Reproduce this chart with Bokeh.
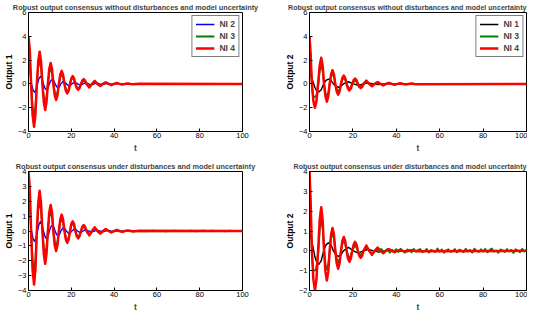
from bokeh.plotting import figure
from bokeh.layouts import column, row
from bokeh.models import Legend, LegendItem, FixedTicker, Range1d, Title
from bokeh.embed import file_html
from bokeh.resources import INLINE

# ---------------- data ----------------
X_TICKS = [0, 20, 40, 60, 80, 100]
Y_TICKS_TOP = [-4, -2, 0, 2, 4, 6]
Y_TICKS_BL = [-4, -3, -2, -1, 0, 1, 2, 3, 4]
Y_TICKS_BR = [-2, -1, 0, 1, 2, 3, 4]

TITLE_TOP = "Robust output consensus without disturbances and model uncertainty"
TITLE_BOT = "Robust output consensus under disturbances and model uncertainty"

# Output 1 (t, value) - the undisturbed and disturbed runs look the same early on
tl_ni2 = [(0, 2.0), (0.7, 1.3), (1.4, 0), (2.1, -0.5), (2.8, -0.7), (3.5, -0.5), (4.2, 0), (4.9, 0.45),
          (5.6, 0.63), (6.3, 0.45), (7.0, 0), (7.7, -0.37), (8.4, -0.52), (9.1, -0.37), (9.75, 0),
          (10.4, 0.27), (11.1, 0.38), (11.8, 0.27), (12.45, 0), (13.1, -0.23), (13.8, -0.32),
          (14.5, -0.23), (15.1, 0), (16.4, 0.26), (17.7, 0), (19.0, -0.2), (20.3, 0), (21.6, 0.16),
          (22.9, 0), (24.2, -0.13), (25.5, 0), (26.8, 0.1), (28.1, 0), (29.4, -0.08), (30.7, 0),
          (32.0, 0.06), (33.3, 0), (34.6, -0.05), (35.9, 0), (37.2, 0.04), (38.5, 0), (39.8, -0.03),
          (41.1, 0), (42.4, 0.02), (43.7, 0), (45.0, -0.01), (100, 0)]
tl_ni3 = [(0, 3.0), (0.6, 2.2), (1.2, 0), (1.9, -1.9), (2.6, -2.7), (3.25, -1.9), (3.9, 0), (4.55, 1.4),
          (5.2, 2.0), (5.85, 1.4), (6.5, 0), (7.15, -1.1), (7.8, -1.55), (8.4, -1.1), (9.05, 0),
          (9.7, 0.92), (10.35, 1.3), (11.0, 0.92), (11.6, 0), (12.25, -0.7), (12.9, -1.0),
          (13.55, -0.7), (14.2, 0), (14.85, 0.58), (15.5, 0.82), (16.15, 0.58), (16.8, 0),
          (17.45, -0.44), (18.1, -0.62), (18.75, -0.44), (19.4, 0), (20.0, 0.35), (20.65, 0.5),
          (21.3, 0.35), (21.9, 0), (22.55, -0.27), (23.2, -0.38), (23.85, -0.27), (24.5, 0),
          (25.8, 0.3), (27.1, 0), (28.4, -0.23), (29.7, 0), (30.95, 0.18), (32.2, 0), (33.5, -0.14),
          (34.8, 0), (36.1, 0.1), (37.4, 0), (38.7, -0.08), (40.0, 0), (41.25, 0.06), (42.5, 0),
          (43.8, -0.04), (45.1, 0), (46.4, 0.03), (47.7, 0), (49.0, -0.02), (100, 0)]
tl_ni4 = [(0, 4.0), (0.6, 2.9), (1.2, 0), (1.9, -2.6), (2.6, -3.6), (3.25, -2.55), (3.9, 0), (4.55, 1.9),
          (5.2, 2.7), (5.85, 1.9), (6.5, 0), (7.15, -1.55), (7.8, -2.2), (8.4, -1.55), (9.05, 0),
          (9.7, 1.25), (10.35, 1.75), (11.0, 1.25), (11.6, 0), (12.25, -0.95), (12.9, -1.35),
          (13.55, -0.95), (14.2, 0), (14.85, 0.78), (15.5, 1.1), (16.15, 0.78), (16.8, 0),
          (17.45, -0.57), (18.1, -0.8), (18.75, -0.57), (19.4, 0), (20.0, 0.46), (20.65, 0.65),
          (21.3, 0.46), (21.9, 0), (22.55, -0.35), (23.2, -0.5), (23.85, -0.35), (24.5, 0),
          (25.15, 0.28), (25.8, 0.4), (26.45, 0.28), (27.1, 0), (28.4, -0.3), (29.7, 0), (30.95, 0.25),
          (32.2, 0), (33.5, -0.18), (34.8, 0), (36.1, 0.14), (37.4, 0), (38.7, -0.1), (40.0, 0),
          (41.25, 0.08), (42.5, 0), (43.8, -0.06), (45.1, 0), (46.4, 0.04), (47.7, 0), (49.0, -0.03),
          (50.3, 0), (51.6, 0.02), (100, 0)]

# NI 2 in the disturbed run keeps a small ripple after t = 45
bl_ni2_tail = [(46, -0.02), (48, 0.03), (50, -0.01), (52, 0.02), (54, -0.03), (56, 0.01), (58, 0.03),
               (60, -0.02), (62, 0.02), (64, -0.03), (66, 0.01), (68, 0.03), (70, -0.02), (72, 0.02),
               (74, -0.01), (76, 0.03), (78, -0.03), (80, 0.02), (82, 0.04), (84, -0.02), (86, 0.03),
               (88, -0.01), (90, 0.02), (92, -0.03), (94, 0.03), (96, -0.02), (98, 0.02), (100, 0.0)]

# Output 2 (t, value)
tr_ni1 = [(0, 0.9), (0.8, 0.6), (1.5, 0.25), (2.5, -0.3), (3.3, -0.58), (4.3, -0.68), (5.4, -0.5),
          (6.5, 0), (7.6, 0.3), (8.7, 0.4), (9.9, 0.3), (11.0, 0), (12.2, -0.2), (13.3, -0.28),
          (14.5, -0.2), (15.6, 0), (17.9, 0.18), (20.2, 0), (22.5, -0.12), (24.8, 0), (27.1, 0.08),
          (29.4, 0), (31.7, -0.05), (34.0, 0), (36.3, 0.03), (38.6, 0), (40.9, -0.02), (43.2, 0),
          (100, 0)]
tr_ni3 = [(0, 4.0), (0.4, 2.4), (0.8, 1.0), (1.2, -0.3), (1.6, -1.0), (2.4, -1.1), (3.0, -1.05),
          (3.5, -0.7), (4.1, 0), (4.75, 1.1), (5.4, 1.55), (6.05, 1.1), (6.7, 0), (7.35, -0.78),
          (8.0, -1.1), (8.65, -0.78), (9.3, 0), (9.95, 0.6), (10.6, 0.85), (11.25, 0.6), (11.9, 0),
          (12.55, -0.46), (13.2, -0.65), (13.85, -0.46), (14.5, 0), (15.15, 0.35), (15.8, 0.5),
          (16.45, 0.35), (17.1, 0), (17.75, -0.28), (18.4, -0.4), (19.05, -0.28), (19.7, 0),
          (21.0, 0.32), (22.3, 0), (23.6, -0.25), (24.9, 0), (26.2, 0.2), (27.5, 0), (28.8, -0.15),
          (30.1, 0), (31.4, 0.12), (32.7, 0), (34.0, -0.09), (35.3, 0), (36.6, 0.07), (37.9, 0),
          (39.2, -0.05), (40.5, 0), (41.8, 0.04), (43.1, 0), (44.4, -0.03), (45.7, 0), (47.0, 0.02),
          (48.3, 0), (100, 0)]
tr_ni4 = [(0, 4.0), (0.5, 2.6), (1.1, 0), (1.8, -1.45), (2.5, -2.0), (3.2, -1.45), (3.95, 0), (4.7, 1.55),
          (5.4, 2.2), (6.05, 1.55), (6.7, 0), (7.35, -1.05), (8.0, -1.5), (8.65, -1.05), (9.3, 0),
          (9.95, 0.82), (10.6, 1.15), (11.25, 0.82), (11.9, 0), (12.55, -0.64), (13.2, -0.9),
          (13.85, -0.64), (14.5, 0), (15.15, 0.5), (15.8, 0.7), (16.45, 0.5), (17.1, 0),
          (17.75, -0.39), (18.4, -0.55), (19.05, -0.39), (19.7, 0), (20.35, 0.32), (21.0, 0.45),
          (21.65, 0.32), (22.3, 0), (22.95, -0.25), (23.6, -0.35), (24.25, -0.25), (24.9, 0),
          (26.2, 0.27), (27.5, 0), (28.8, -0.2), (30.1, 0), (31.4, 0.16), (32.7, 0), (34.0, -0.12),
          (35.3, 0), (36.6, 0.09), (37.9, 0), (39.2, -0.07), (40.5, 0), (41.8, 0.05), (43.1, 0),
          (44.4, -0.04), (45.7, 0), (47.0, 0.03), (48.3, 0), (49.6, -0.02), (100, 0)]

# NI 3, Output 2, disturbed run
br_ni3_head = [(0, 4.0), (0.4, 2.4), (0.8, 1.0), (1.2, -0.3), (1.7, -0.95), (2.5, -1.0), (3.0, -0.9),
               (3.5, -0.6), (4.1, 0), (4.8, 1.15), (5.5, 1.6), (6.15, 1.1), (6.8, 0), (7.4, -0.7),
               (8.0, -0.95), (8.65, -0.7), (9.3, 0), (9.95, 0.64), (10.6, 0.9), (11.25, 0.64),
               (11.9, 0), (12.55, -0.42), (13.2, -0.6), (13.85, -0.42), (14.5, 0), (15.15, 0.35),
               (15.8, 0.5), (16.45, 0.35), (17.1, 0), (18.4, -0.42), (19.7, 0), (21.0, 0.3), (22.3, 0),
               (23.6, -0.25), (24.9, 0), (26.2, 0.2), (27.5, 0), (28.8, -0.14), (30.1, 0)]
br_ni3_tail_t = list(range(31, 101))
br_ni3_tail_y = [0.12, -0.08, 0.1, -0.04, 0.02, 0.09, -0.1, 0.05, -0.03, 0.08,
                 -0.06, 0.11, -0.02, -0.09, 0.07, 0.03, -0.08, 0.1, -0.05, 0.04,
                 0.09, -0.07, -0.02, 0.1, -0.09, 0.05, 0.01, -0.06, 0.12, -0.04,
                 0.07, -0.1, 0.03, 0.08, -0.05, -0.01, 0.09, -0.08, 0.06, 0.02,
                 -0.07, 0.1, -0.03, 0.05, -0.09, 0.11, 0.0, -0.06, 0.08, -0.04,
                 0.1, -0.08, 0.04, 0.12, -0.05, 0.02, -0.1, 0.07, 0.03, -0.06,
                 0.09, -0.03, 0.05, -0.11, 0.08, 0.01, -0.07, 0.1, -0.04, 0.06]

C_BLUE, C_GREEN, C_RED, C_BLACK = "#0000ff", "#008000", "#ff0000", "#000000"
FONT = "Liberation Sans"


def xy(pairs):
    return [a for a, _ in pairs], [b for _, b in pairs]


def make_fig(title, ylabel, yr, yticks, fw, fh, bl, br, bt, bb, title_align, title_size):
    p = figure(frame_width=fw, frame_height=fh, x_range=Range1d(0, 100), y_range=Range1d(*yr),
               output_backend="svg", toolbar_location=None,
               min_border_left=bl, min_border_right=br, min_border_top=bt, min_border_bottom=bb)
    p.title.text = title
    p.title.align = title_align
    p.title.text_font = FONT
    p.title.text_font_size = title_size
    p.title.text_font_style = "bold"
    p.title.standoff = 1
    p.title.offset = 0
    p.grid.visible = False
    p.outline_line_color = "black"
    p.outline_line_alpha = 1
    p.outline_line_width = 1
    p.xaxis.ticker = FixedTicker(ticks=X_TICKS)
    p.yaxis.ticker = FixedTicker(ticks=yticks)
    p.yaxis.axis_label = ylabel
    for ax in (p.xaxis, p.yaxis):
        ax.major_tick_in = 3
        ax.major_tick_out = 0
        ax.minor_tick_in = 0
        ax.minor_tick_out = 0
        ax.axis_line_color = "black"
        ax.major_tick_line_color = "black"
        ax.major_label_text_font = FONT
        ax.major_label_text_font_size = "7.5px"
        ax.major_label_text_color = "black"
        ax.major_label_standoff = 2
        ax.axis_label_text_font = FONT
        ax.axis_label_text_font_size = "8.5px"
        ax.axis_label_text_font_style = "bold"
        ax.axis_label_text_color = "black"
        ax.axis_label_standoff = 1
    p.xaxis.major_label_standoff = 1
    # x-axis label drawn as a compact title below the tick labels
    p.add_layout(Title(text="t", align="center", text_font=FONT, text_font_size="8.5px",
                       text_font_style="bold", standoff=0, offset=0), "below")
    return p


def add_lines(p, series, legend=True):
    items = []
    for name, pairs, color, w in series:
        xs, ys = xy(pairs)
        r = p.line(xs, ys, line_color=color, line_width=w, line_join="round")
        items.append(LegendItem(label=name, renderers=[r]))
    if legend:
        lg = Legend(items=items, location="top_right", label_text_font=FONT,
                    label_text_font_size="8.5px", label_text_font_style="bold",
                    glyph_width=19, glyph_height=10, label_height=10, label_width=14, spacing=2,
                    padding=3, margin=3, label_standoff=5,
                    border_line_color="black", border_line_width=1.5,
                    background_fill_color="white", background_fill_alpha=1)
        p.add_layout(lg)


FW_L, FW_R, FH = 214, 217, 119

p1 = make_fig(TITLE_TOP, "Output 1", (-4, 6), Y_TICKS_TOP, FW_L, FH, 20, 24, 10, 22, "center", "7.3px")
add_lines(p1, [("NI 2", tl_ni2, C_BLUE, 1.4), ("NI 3", tl_ni3, C_GREEN, 1.8), ("NI 4", tl_ni4, C_RED, 2.5)])

p2 = make_fig(TITLE_TOP, "Output 2", (-4, 6), Y_TICKS_TOP, FW_R, FH, 43, 1, 10, 22, "right", "7.1px")
add_lines(p2, [("NI 1", tr_ni1, C_BLACK, 1.4), ("NI 3", tr_ni3, C_GREEN, 1.8), ("NI 4", tr_ni4, C_RED, 2.5)])

bl_ni2 = tl_ni2[:-1] + bl_ni2_tail
p3 = make_fig(TITLE_BOT, "Output 1", (-4, 4), Y_TICKS_BL, FW_L, FH, 20, 24, 18, 22, "center", "7.3px")
add_lines(p3, [("NI 2", bl_ni2, C_BLUE, 1.4), ("NI 3", tl_ni3, C_GREEN, 1.8), ("NI 4", tl_ni4, C_RED, 2.5)],
          legend=False)

br_ni3 = br_ni3_head + list(zip(br_ni3_tail_t, br_ni3_tail_y))
p4 = make_fig(TITLE_BOT, "Output 2", (-2, 4), Y_TICKS_BR, FW_R, FH, 43, 1, 18, 22, "right", "7.1px")
add_lines(p4, [("NI 1", tr_ni1, C_BLACK, 1.4), ("NI 3", br_ni3, C_GREEN, 1.8), ("NI 4", tr_ni4, C_RED, 2.5)],
          legend=False)

layout = column(row(p1, p2, spacing=0), row(p3, p4, spacing=0), spacing=0)

open("out.html", "w").write(file_html(layout, INLINE))
